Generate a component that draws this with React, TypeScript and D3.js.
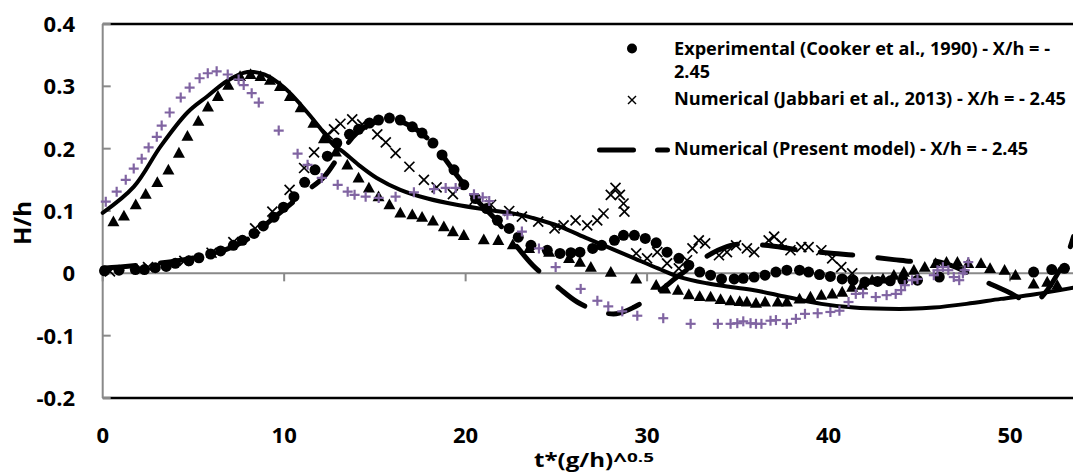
import * as d3 from 'd3';

// Experimental (Cooker et al., 1990)
const expT = [0.1, 0.9, 1.8, 2.3, 2.9, 3.5, 4.0, 4.75, 5.3, 5.95, 6.5, 7.2, 7.7, 8.34, 8.85, 9.44, 9.96, 10.54, 11.13, 11.7, 12.38, 12.9, 13.6, 14.1, 14.7, 15.2, 15.8, 16.4, 17.06, 17.6, 18.2, 18.7, 19.36, 19.9, 20.55, 21.16, 21.75, 22.4, 22.9, 23.6, 24.5, 25.2, 25.8, 26.3, 27.0, 27.5, 28.2, 28.7, 29.3, 29.9, 30.5, 31.1, 31.75, 32.3, 32.9, 33.5, 34.1, 34.8, 35.3, 35.9, 36.5, 37.1, 37.7, 38.4, 38.9, 39.5, 40.1, 40.75, 41.35, 42.0, 42.7, 43.4, 44.1, 44.9, 46.1, 51.3, 52.3, 53.0];
const expH = [0.004, 0.005, 0.006, 0.006, 0.009, 0.011, 0.016, 0.020, 0.025, 0.031, 0.036, 0.045, 0.053, 0.064, 0.076, 0.090, 0.106, 0.123, 0.146, 0.166, 0.188, 0.209, 0.223, 0.231, 0.241, 0.246, 0.249, 0.246, 0.235, 0.225, 0.209, 0.190, 0.166, 0.142, 0.120, 0.104, 0.085, 0.072, 0.058, 0.045, 0.037, 0.032, 0.033, 0.034, 0.040, 0.045, 0.053, 0.061, 0.061, 0.056, 0.049, 0.034, 0.024, 0.013, 0.002, -0.003, -0.009, -0.009, -0.008, -0.006, -0.003, 0.002, 0.005, 0.005, 0.002, -0.002, -0.005, -0.009, -0.011, -0.014, -0.013, -0.012, -0.011, -0.011, -0.006, 0.002, 0.006, 0.008];

// Numerical (Jabbari et al., 2013)
const jabT = [0.4, 2.5, 4.5, 6.0, 7.2, 8.4, 9.35, 10.3, 11.1, 11.65, 12.4, 12.75, 13.1, 13.75, 14.3, 15.13, 15.6, 16.14, 16.9, 17.7, 18.4, 19.3, 20.5, 21.4, 22.4, 23.1, 24.0, 24.9, 25.4, 26.06, 26.7, 27.25, 27.6, 28.0, 28.26, 28.5, 28.7, 28.75, 29.4, 30.0, 30.56, 31.1, 31.75, 32.2, 32.5, 32.85, 33.2, 33.96, 34.4, 34.9, 35.5, 35.9, 36.7, 37.0, 37.4, 37.9, 38.5, 38.9, 39.6, 40.2, 40.7, 41.3];
const jabH = [0.003, 0.010, 0.020, 0.033, 0.050, 0.072, 0.099, 0.134, 0.169, 0.194, 0.223, 0.231, 0.240, 0.247, 0.239, 0.223, 0.210, 0.193, 0.171, 0.150, 0.138, 0.127, 0.118, 0.110, 0.100, 0.091, 0.083, 0.072, 0.077, 0.085, 0.077, 0.085, 0.096, 0.126, 0.137, 0.126, 0.112, 0.099, 0.032, 0.024, 0.034, 0.016, 0.008, 0.021, 0.040, 0.053, 0.048, 0.029, 0.034, 0.045, 0.040, 0.034, 0.053, 0.059, 0.048, 0.037, 0.042, 0.042, 0.037, 0.024, 0.010, 0.000];

// Numerical (Present model) - dashed line
const modT = [0, 2.3, 4.5, 6.5, 8.0, 9.26, 11.1, 12.2, 13.2, 14.0, 15.0, 16.0, 17.0, 18.2, 19.5, 20.6, 21.6, 22.85, 23.7, 25.2, 26.15, 27.2, 28.3, 29.3, 30.6, 31.65, 32.8, 33.9, 34.8, 36.0, 37.1, 38.5, 40.3, 41.5, 43.6, 44.7, 45.8, 46.7, 47.6, 48.7, 49.9, 51.0, 51.6, 52.05, 53.1, 53.5];
const modH = [0.008, 0.014, 0.022, 0.035, 0.055, 0.085, 0.129, 0.155, 0.196, 0.225, 0.242, 0.246, 0.236, 0.208, 0.158, 0.118, 0.088, 0.042, 0.013, -0.025, -0.046, -0.060, -0.065, -0.054, -0.030, -0.006, 0.018, 0.037, 0.046, 0.046, 0.043, 0.037, 0.032, 0.029, 0.022, 0.019, 0.020, 0.013, 0.002, -0.014, -0.030, -0.045, -0.041, -0.027, 0.026, 0.059];

// triangles
const triT = [0.59, 1.17, 1.82, 2.37, 3.01, 3.62, 4.2, 4.67, 5.27, 5.8, 6.35, 6.92, 7.57, 8.15, 8.7, 9.22, 9.77, 10.32, 10.91, 11.61, 12.19, 12.85, 13.48, 14.1, 14.67, 15.2, 15.8, 16.4, 17.06, 17.6, 18.2, 18.8, 19.3, 19.9, 21.0, 21.8, 22.6, 23.5, 24.6, 25.7, 26.3, 26.9, 28.0, 29.4, 30.5, 31.0, 31.7, 32.3, 32.9, 33.5, 34.05, 34.6, 35.1, 35.5, 36.0, 36.5, 37.2, 37.7, 38.4, 39.0, 39.6, 40.2, 40.75, 41.3, 41.85, 42.4, 43.0, 43.6, 44.15, 44.7, 45.3, 45.9, 46.5, 47.1, 47.7, 48.4, 48.9, 49.7, 50.3, 51.3, 52.05, 52.6];
const triH = [0.083, 0.092, 0.110, 0.127, 0.146, 0.166, 0.193, 0.220, 0.244, 0.267, 0.284, 0.302, 0.316, 0.319, 0.316, 0.310, 0.300, 0.284, 0.266, 0.241, 0.216, 0.195, 0.174, 0.153, 0.137, 0.123, 0.110, 0.097, 0.094, 0.090, 0.084, 0.075, 0.067, 0.061, 0.054, 0.053, 0.046, 0.040, 0.034, 0.024, 0.018, 0.010, 0.002, -0.009, -0.019, -0.025, -0.027, -0.034, -0.037, -0.038, -0.042, -0.044, -0.045, -0.046, -0.048, -0.046, -0.046, -0.046, -0.041, -0.038, -0.035, -0.033, -0.030, -0.022, -0.019, -0.011, -0.009, -0.003, 0.002, 0.005, 0.010, 0.016, 0.018, 0.018, 0.016, 0.016, 0.008, 0.005, -0.003, -0.017, -0.014, -0.019];

// solid line
const solT = [0, 1.72, 3.2, 4.67, 5.77, 6.87, 7.97, 8.9, 10.0, 11.28, 12.2, 12.75, 13.2, 14.1, 15.1, 16.4, 17.9, 19.5, 21.2, 23.0, 23.8, 25.2, 26.7, 28.0, 29.3, 30.6, 31.8, 33.3, 34.6, 35.9, 37.7, 39.6, 41.4, 43.2, 44.5, 45.8, 47.6, 49.5, 51.3, 53.5];
const solH = [0.097, 0.139, 0.204, 0.258, 0.284, 0.309, 0.323, 0.319, 0.298, 0.258, 0.225, 0.205, 0.196, 0.174, 0.153, 0.134, 0.120, 0.110, 0.102, 0.094, 0.088, 0.075, 0.056, 0.040, 0.024, 0.008, -0.006, -0.016, -0.022, -0.027, -0.038, -0.049, -0.055, -0.057, -0.057, -0.055, -0.049, -0.041, -0.034, -0.023];

// plus markers
const plusT = [0.17, 0.77, 1.27, 1.71, 2.15, 2.53, 2.98, 3.25, 3.69, 4.30, 4.79, 5.34, 5.79, 6.28, 6.89, 7.49, 7.77, 8.21, 8.60, 9.70, 10.74, 11.29, 12.07, 12.95, 13.50, 13.88, 14.49, 15.21, 16.14, 17.15, 18.26, 18.9, 19.45, 20.46, 20.94, 21.3, 22.3, 23.1, 24.04, 24.96, 26.34, 27.26, 27.86, 28.63, 29.46, 30.89, 32.4, 33.9, 34.6, 34.97, 35.3, 35.7, 36.0, 36.3, 36.8, 37.1, 37.7, 38.2, 38.7, 39.4, 40.1, 40.6, 41.1, 41.5, 41.9, 42.6, 43.2, 43.7, 44.0, 44.2, 44.6, 44.9, 45.8, 46.0, 46.3, 46.6, 46.9, 47.2, 47.4, 47.5, 47.7];
const plusH = [0.115, 0.131, 0.150, 0.168, 0.184, 0.202, 0.219, 0.237, 0.258, 0.282, 0.298, 0.313, 0.321, 0.324, 0.319, 0.311, 0.302, 0.289, 0.274, 0.229, 0.192, 0.174, 0.153, 0.142, 0.131, 0.126, 0.123, 0.121, 0.123, 0.130, 0.135, 0.137, 0.137, 0.127, 0.122, 0.116, 0.094, 0.067, 0.040, 0.010, -0.025, -0.044, -0.053, -0.061, -0.068, -0.072, -0.081, -0.081, -0.081, -0.080, -0.077, -0.080, -0.081, -0.081, -0.076, -0.075, -0.081, -0.073, -0.065, -0.064, -0.062, -0.060, -0.046, -0.033, -0.032, -0.038, -0.035, -0.033, -0.027, -0.019, -0.011, -0.009, -0.003, 0.005, 0.010, 0.005, -0.006, -0.011, 0.000, 0.005, 0.018];

const yTicks = [-0.2, -0.1, 0, 0.1, 0.2, 0.3, 0.4];
const yTickLabels = ['-0.2', '-0.1', '0', '0.1', '0.2', '0.3', '0.4'];
const xTicks = [0, 10, 20, 30, 40, 50];

const legendLabels = [
    'Experimental (Cooker et al., 1990) - X/h = -',
    '2.45',
    'Numerical (Jabbari et al., 2013) - X/h = - 2.45',
    'Numerical (Present model) - X/h = - 2.45',
];

const FONT = '"Open Sans", "DejaVu Sans", sans-serif';
const PURPLE = '#8064A2';
const AXIS_GREY = '#898989';

export default function App() {
    const width = 1073;
    const height = 472;

    const x = d3.scaleLinear().domain([0, 53.47]).range([102.7, 1073]);
    const y = d3.scaleLinear().domain([-0.2, 0.4]).range([398, 24]);

    const zip = (ts: number[], hs: number[]) => ts.map((t, i) => [t, hs[i]] as [number, number]);

    const line = d3.line<[number, number]>()
        .x(d => x(d[0]))
        .y(d => y(d[1]))
        .curve(d3.curveCatmullRom.alpha(0.5));

    const exp = zip(expT, expH);
    const jab = zip(jabT, jabH);
    const mod = zip(modT, modH);
    const tri = zip(triT, triH);
    const sol = zip(solT, solH);
    const plus = zip(plusT, plusH);

    const triPath = 'M0,-6.2L6,4.6L-6,4.6Z';

    const cross = (cx: number, cy: number, s: number, key: string | number, w = 1.7) => (
        <g key={key} stroke="#000" strokeWidth={w}>
            <line x1={cx - s} y1={cy - s} x2={cx + s} y2={cy + s} />
            <line x1={cx - s} y1={cy + s} x2={cx + s} y2={cy - s} />
        </g>
    );

    return (
        <svg
            width={width}
            height={height}
            style={{ position: 'absolute', left: 0, top: 0, display: 'block', background: '#fff' }}
            fontFamily={FONT}
        >
            <defs>
                <clipPath id="plot">
                    <rect x={x(0) - 8} y={y(0.4) - 8} width={width - x(0) + 8} height={y(-0.2) - y(0.4) + 16} />
                </clipPath>
            </defs>

            {/* plot border and axes */}
            <line x1={x(0)} x2={width} y1={y(0.4)} y2={y(0.4)} stroke="#000" strokeWidth={2.5} />
            <line x1={x(0)} x2={width} y1={y(-0.2)} y2={y(-0.2)} stroke="#000" strokeWidth={2.5} />
            <line x1={x(0)} x2={x(0)} y1={y(0.4)} y2={y(-0.2)} stroke={AXIS_GREY} strokeWidth={2} />
            <line x1={x(0)} x2={width} y1={y(0)} y2={y(0)} stroke={AXIS_GREY} strokeWidth={2} />
            {yTicks.map(t => (
                <line key={t} x1={x(0)} x2={x(0) + 8} y1={y(t)} y2={y(t)} stroke={AXIS_GREY} strokeWidth={2} />
            ))}
            {xTicks.map(t => (
                <line key={t} x1={x(t)} x2={x(t)} y1={y(0)} y2={y(0) + 8} stroke={AXIS_GREY} strokeWidth={2} />
            ))}

            {/* tick labels */}
            {yTicks.map((t, i) => (
                <text key={t} x={75} y={y(t) + 8} textAnchor="end" fontSize={22} fontWeight="bold" fill="#000">
                    {yTickLabels[i]}
                </text>
            ))}
            {xTicks.map(t => (
                <text key={t} x={x(t)} y={443} textAnchor="middle" fontSize={22} fontWeight="bold" fill="#000">
                    {t}
                </text>
            ))}

            {/* axis titles */}
            <text x={534} y={467} fontSize={19} fontWeight="bold" textLength={93} lengthAdjust="spacingAndGlyphs">t*(g/h)^</text>
            <text x={627} y={462} fontSize={12} fontWeight="bold" textLength={27} lengthAdjust="spacingAndGlyphs">0.5</text>
            <text transform="translate(31,223) rotate(-90)" textAnchor="middle" fontSize={24} fontWeight="bold">H/h</text>

            <g clipPath="url(#plot)">
                {/* experimental circles */}
                {exp.map((d, i) => (
                    <circle key={i} cx={x(d[0])} cy={y(d[1])} r={5.5} fill="#000" />
                ))}
                {/* Jabbari crosses */}
                {jab.map((d, i) => cross(x(d[0]), y(d[1]), 5, i))}
                {/* present model */}
                <path d={line(mod) ?? ''} fill="none" stroke="#000" strokeWidth={5}
                    strokeDasharray="33 25" strokeLinecap="round" />
                {/* triangles */}
                {tri.map((d, i) => (
                    <path key={i} d={triPath} transform={`translate(${x(d[0])},${y(d[1])})`} fill="#000" />
                ))}
                {/* solid line */}
                <path d={line(sol) ?? ''} fill="none" stroke="#000" strokeWidth={4} strokeLinecap="round" />
                {/* plus markers */}
                {plus.map((d, i) => (
                    <g key={i} stroke={PURPLE} strokeWidth={2.2}>
                        <line x1={x(d[0]) - 5} x2={x(d[0]) + 5} y1={y(d[1])} y2={y(d[1])} />
                        <line x1={x(d[0])} x2={x(d[0])} y1={y(d[1]) - 5} y2={y(d[1]) + 5} />
                    </g>
                ))}
            </g>

            {/* legend */}
            <circle cx={632} cy={48.5} r={5} fill="#000" />
            {cross(632, 100, 4, 'lg', 1.4)}
            <line x1={599.5} x2={667.5} y1={150} y2={150} stroke="#000" strokeWidth={5}
                strokeDasharray="34 24" strokeLinecap="round" />
            <text x={674} y={55} fontSize={17} fontWeight="bold" textLength={376} lengthAdjust="spacingAndGlyphs">{legendLabels[0]}</text>
            <text x={674} y={78} fontSize={17} fontWeight="bold" textLength={36} lengthAdjust="spacingAndGlyphs">{legendLabels[1]}</text>
            <text x={674} y={105} fontSize={17} fontWeight="bold" textLength={392} lengthAdjust="spacingAndGlyphs">{legendLabels[2]}</text>
            <text x={674} y={155} fontSize={17} fontWeight="bold" textLength={354} lengthAdjust="spacingAndGlyphs">{legendLabels[3]}</text>
        </svg>
    );
}
